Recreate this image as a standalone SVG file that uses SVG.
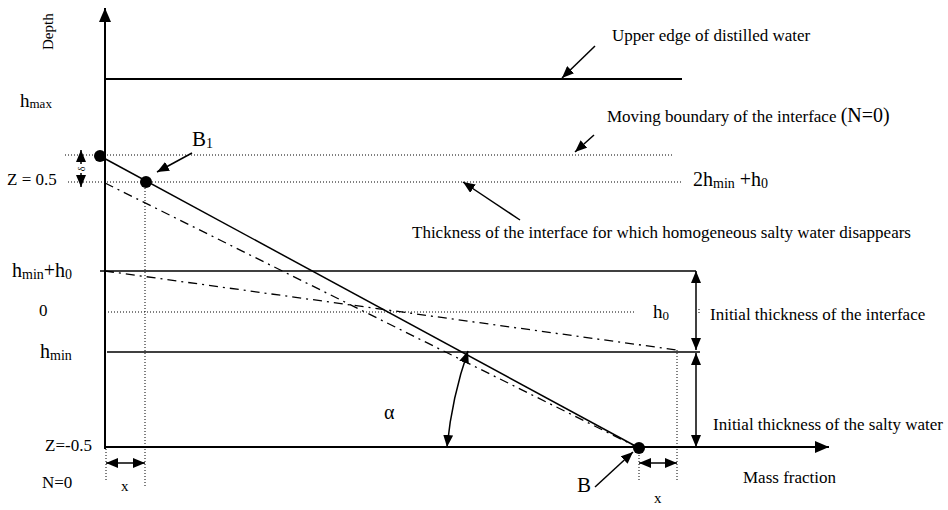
<svg xmlns="http://www.w3.org/2000/svg" width="948" height="510" viewBox="0 0 948 510">
<style>
text{font-family:"Liberation Serif","Times New Roman",serif;fill:#000;}
.lbl{font-size:17px;}
.sub{font-size:13px;}
.solid{stroke:#000;stroke-width:1.5;fill:none;}
.thick{stroke:#000;stroke-width:2.2;fill:none;}
.dot{stroke:#000;stroke-width:1;stroke-dasharray:1 2;fill:none;}
.dd{stroke:#000;stroke-width:1.3;stroke-dasharray:9 5 2 5;fill:none;}
.arr{stroke:#000;stroke-width:1.5;fill:none;marker-end:url(#ah);}
.dbl{stroke:#000;stroke-width:1.5;fill:none;marker-start:url(#ah);marker-end:url(#ah);}
</style>
<defs>
<marker id="ah" viewBox="0 0 12 10" refX="12" refY="5" markerWidth="12" markerHeight="10" markerUnits="userSpaceOnUse" orient="auto-start-reverse"><path d="M0,0 L12,5 L0,10 z" fill="#000"/></marker>
<marker id="axh" viewBox="0 0 14 12" refX="14" refY="6" markerWidth="14" markerHeight="12" markerUnits="userSpaceOnUse" orient="auto"><path d="M0,0 L14,6 L0,12 z" fill="#000"/></marker>
</defs>
<rect width="948" height="510" fill="#fff"/>

<g id="axes">
<line x1="105" y1="449" x2="105" y2="8" class="thick" style="stroke-width:2" marker-end="url(#axh)"/>
<line x1="104" y1="447" x2="829" y2="447" class="thick" style="stroke-width:2" marker-end="url(#axh)"/>
</g>

<g id="levels">
<line x1="105" y1="79" x2="682" y2="79" class="thick"/>
<line x1="100" y1="271" x2="696" y2="271" class="solid"/>
<line x1="107" y1="352" x2="700" y2="352" class="solid"/>
<line x1="65" y1="155" x2="674" y2="155" class="dot"/>
<line x1="68" y1="182" x2="682" y2="182" class="dot"/>
<line x1="108" y1="312" x2="635" y2="312" class="dot"/>
<line x1="699" y1="309" x2="699" y2="315" class="dot"/>
</g>

<g id="guides">
<line x1="145" y1="182" x2="145" y2="487" class="dot"/>
<line x1="106" y1="449" x2="106" y2="480" class="dot"/>
<line x1="639" y1="449" x2="639" y2="480" class="dot"/>
<line x1="677" y1="350" x2="677" y2="480" class="dot"/>
</g>

<g id="profiles">
<line x1="100" y1="156" x2="639" y2="448" class="solid"/>
<line x1="105" y1="183" x2="639" y2="448" class="dd"/>
<line x1="105" y1="271" x2="677" y2="350" class="dd"/>
</g>

<g id="points">
<circle cx="100" cy="156" r="6" fill="#000"/>
<circle cx="146" cy="182" r="6" fill="#000"/>
<circle cx="639" cy="448" r="6" fill="#000"/>
</g>

<g id="connectors">
<line x1="595" y1="46" x2="562" y2="78" class="arr"/>
<line x1="594" y1="135" x2="575" y2="152" class="arr"/>
<line x1="520" y1="220" x2="463" y2="182" class="arr"/>
<line x1="192" y1="153" x2="157" y2="172" class="arr"/>
<line x1="595" y1="487" x2="633" y2="452" class="arr"/>
<line x1="696" y1="271" x2="696" y2="350" class="dbl"/>
<line x1="696" y1="353" x2="696" y2="447" class="dbl"/>
<line x1="106" y1="463" x2="145" y2="463" class="dbl"/>
<line x1="639" y1="463" x2="677" y2="463" class="dbl"/>
<line x1="81" y1="164" x2="81" y2="150" class="arr"/>
<line x1="81" y1="173" x2="81" y2="187" class="arr"/>
<path d="M468,351 Q452,397 447,447" class="dbl"/>
</g>

<g id="labels">
<text class="lbl" transform="translate(53,50) rotate(-90)" style="font-size:15px">Depth</text>
<text class="lbl" x="20" y="107" style="font-size:19px">h<tspan class="sub" dy="1">max</tspan></text>
<text class="lbl" x="192" y="146" style="font-size:21px">B<tspan style="font-size:14px" dy="2">1</tspan></text>
<text class="lbl" x="7" y="185">Z = 0.5</text>
<text transform="translate(85,169) rotate(-90)" style="font-size:10px" text-anchor="middle">δ</text>
<text class="lbl" x="12" y="277" style="font-size:20px">h<tspan class="sub" style="font-size:14px" dy="2">min</tspan><tspan dy="-2">+h</tspan><tspan class="sub" style="font-size:14px" dy="2">0</tspan></text>
<text class="lbl" x="39" y="316">0</text>
<text class="lbl" x="40" y="358" style="font-size:20px">h<tspan class="sub" style="font-size:14px" dy="2">min</tspan></text>
<text class="lbl" x="45" y="451">Z=-0.5</text>
<text class="lbl" x="42" y="488">N=0</text>
<text class="lbl" x="121" y="491" style="font-size:15px">x</text>
<text class="lbl" x="654" y="503" style="font-size:15px">x</text>
<text class="lbl" x="577" y="492" style="font-size:21px">B</text>
<text class="lbl" x="384" y="419" style="font-size:20px">α</text>
<text class="lbl" x="612" y="41">Upper edge of distilled water</text>
<text class="lbl" x="607" y="122">Moving boundary of the interface <tspan style="font-size:20px">(N=0)</tspan></text>
<text class="lbl" x="693" y="186" style="font-size:20px">2h<tspan class="sub" style="font-size:14px" dy="2">min</tspan><tspan dy="-2"> +h</tspan><tspan class="sub" style="font-size:14px" dy="2">0</tspan></text>
<text class="lbl" x="412" y="238">Thickness of the interface for which homogeneous salty water disappears</text>
<text class="lbl" x="653" y="318" style="font-size:19px">h<tspan class="sub" dy="2">0</tspan></text>
<text class="lbl" x="710" y="320">Initial thickness of the interface</text>
<text class="lbl" x="713" y="430">Initial thickness of the salty water</text>
<text class="lbl" x="743" y="483">Mass fraction</text>
</g>
</svg>
